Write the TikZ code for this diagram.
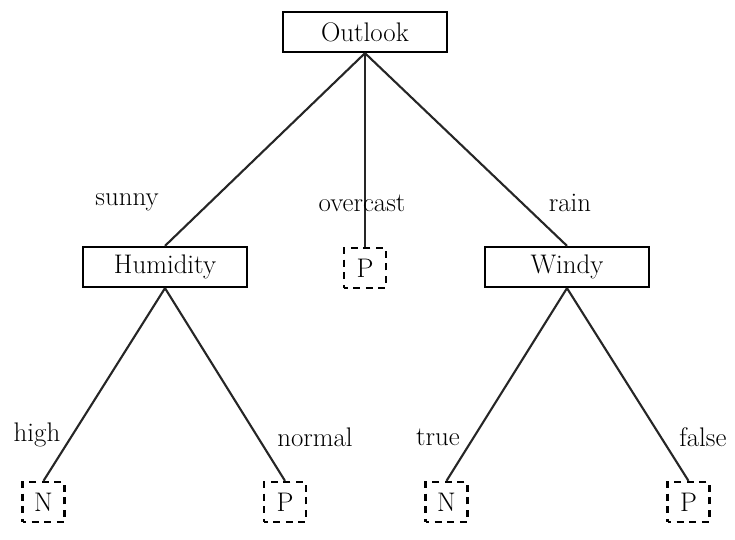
\documentclass[tikz,border=0pt]{standalone}
\usepackage{tikz}
\usetikzlibrary{positioning}
\tikzset{
  attr/.style={rectangle, draw=black, line width=1.3pt,
    minimum width=3.28cm, minimum height=0.8cm,
    font=\fontsize{15.3}{18}\selectfont, inner sep=2pt},
  leaf/.style={rectangle, draw=black, line width=1.3pt,
    dash pattern=on 4pt off 3.2pt, dash phase=2pt,
    minimum width=0.84cm, minimum height=0.8cm,
    font=\fontsize{15.3}{18}\selectfont, inner sep=1pt},
  edge/.style={line width=1.2pt, draw=black!85},
  lbl/.style={font=\fontsize{15.3}{18}\selectfont, inner sep=0pt},
}
\begin{document}
\begin{tikzpicture}[x=0.02cm, y=-0.02cm]
  \useasboundingbox (0,0) rectangle (735,539);

  % -- root --
  \node[attr] (outlook) at (365,32) {Outlook};

  % -- second level --
  \node[attr] (humidity)  at (165,267) {Humidity};
  \node[leaf] (overcastP) at (365,268) {P};
  \node[attr] (windy)     at (567,267) {Windy};

  % -- leaves --
  \node[leaf] (highN)   at (43.5,502)  {N};
  \node[leaf] (normalP) at (285,502)   {P};
  \node[leaf] (trueN)   at (446.5,502) {N};
  \node[leaf] (falseP)  at (688.5,502) {P};

  % branches
  \draw[edge] (outlook.south) -- (humidity.north);
  \draw[edge] (outlook.south) -- (overcastP.north);
  \draw[edge] (outlook.south) -- (windy.north);
  \draw[edge] (humidity.south) -- (highN.north);
  \draw[edge] (humidity.south) -- (normalP.north);
  \draw[edge] (windy.south) -- (trueN.north);
  \draw[edge] (windy.south) -- (falseP.north);

  % branch values
  \node[lbl] (sunny)    at (127,202) {sunny};
  \node[lbl] (overcast) at (362,203) {overcast};
  \node[lbl] (rain)     at (570,203) {rain};
  \node[lbl] (high)     at (37,435)  {high};
  \node[lbl] (normal)   at (315,437) {normal};
  \node[lbl] (true)     at (438,437) {true};
  \node[lbl] (false)    at (703,437) {false};
\end{tikzpicture}
\end{document}
